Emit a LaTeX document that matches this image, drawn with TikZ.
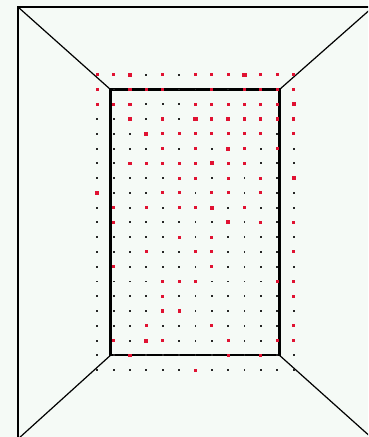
\documentclass[tikz,border=0pt]{standalone}
\definecolor{bg}{RGB}{245,250,246}
\definecolor{dotred}{RGB}{224,18,50}
\begin{document}
\begin{tikzpicture}[x=1pt,y=-1pt,
  edge/.style={draw=black,line width=1.2pt},
  innerbox/.style={draw=black,line width=2.1pt},
  dk/.style={rectangle,fill=black!85,minimum size=1.9pt,inner sep=0pt,outer sep=0pt},
  dr/.style={rectangle,fill=dotred,minimum size=3.1pt,inner sep=0pt,outer sep=0pt},
  dR/.style={rectangle,fill=dotred,minimum size=4.1pt,inner sep=0pt,outer sep=0pt}]
\useasboundingbox (0,0) rectangle (368,437);
\fill[bg] (0,0) rectangle (368,437);
\clip (0,0) rectangle (368,437);
% corners
\coordinate (oTL) at (18,7);
\coordinate (oTR) at (373,7);
\coordinate (oBL) at (18,439);
\coordinate (oBR) at (373,439);
\coordinate (iTL) at (110.5,89.5);
\coordinate (iTR) at (279.5,89.5);
\coordinate (iBL) at (110.5,355.3);
\coordinate (iBR) at (279.5,355.3);
% outer frame and diagonals
\draw[edge] (oTL) -- (oTR) -- (oBR) -- (oBL) -- cycle;
\draw[edge] (oTL) -- (iTL);
\draw[edge] (oTR) -- (iTR);
\draw[edge] (oBL) -- (iBL);
\draw[edge] (oBR) -- (iBR);
% inner rectangle
\draw[innerbox] (iTL) -- (iTR) -- (iBR) -- (iBL) -- cycle;
% dot grid
\foreach \rowlist [count=\j from 0] in {
 {dr,dr,dR,dk,dr,dk,dr,dr,dr,dR,dr,dr,dr},
 {dr,dk,dr,dr,dr,dk,dk,dr,dk,dr,dr,dr,dr},
 {dr,dr,dr,dk,dk,dk,dr,dr,dr,dr,dr,dr,dR},
 {dk,dk,dr,dk,dr,dk,dR,dr,dR,dr,dr,dr,dr},
 {dk,dk,dk,dR,dr,dr,dr,dr,dr,dr,dr,dk,dr},
 {dk,dk,dk,dk,dr,dk,dr,dk,dR,dr,dk,dr,dk},
 {dk,dk,dr,dr,dr,dr,dr,dR,dr,dr,dk,dk,dk},
 {dk,dk,dk,dk,dk,dr,dr,dk,dr,dk,dr,dk,dR},
 {dR,dk,dk,dk,dr,dr,dk,dr,dr,dk,dr,dk,dk},
 {dk,dr,dk,dr,dk,dr,dr,dR,dk,dr,dk,dk,dk},
 {dk,dr,dk,dk,dk,dk,dk,dk,dR,dk,dr,dk,dr},
 {dk,dk,dk,dk,dk,dr,dk,dr,dk,dk,dk,dk,dk},
 {dk,dk,dk,dr,dk,dk,dr,dr,dk,dk,dk,dk,dr},
 {dk,dr,dk,dk,dk,dk,dk,dr,dk,dk,dk,dk,dk},
 {dk,dk,dk,dk,dr,dr,dr,dk,dk,dk,dk,dr,dr},
 {dk,dk,dk,dk,dr,dk,dk,dk,dk,dk,dk,dk,dr},
 {dk,dk,dk,dk,dr,dr,dk,dk,dk,dk,dk,dk,dk},
 {dk,dk,dk,dr,dk,dk,dk,dr,dk,dk,dk,dk,dr},
 {dk,dr,dk,dR,dr,dk,dk,dk,dr,dk,dk,dr,dr},
 {dk,dk,dr,dk,dk,dk,dk,dk,dr,dk,dr,dk,dk},
 {dk,dk,dk,dk,dk,dk,dr,dk,dk,dk,dk,dk,dk}} {
  \foreach \t [count=\i from 0] in \rowlist {
    \node[\t] (p-\i-\j) at ({97.3+16.36*\i},{74.7+14.77*\j}) {};
  }
}
\end{tikzpicture}
\end{document}
